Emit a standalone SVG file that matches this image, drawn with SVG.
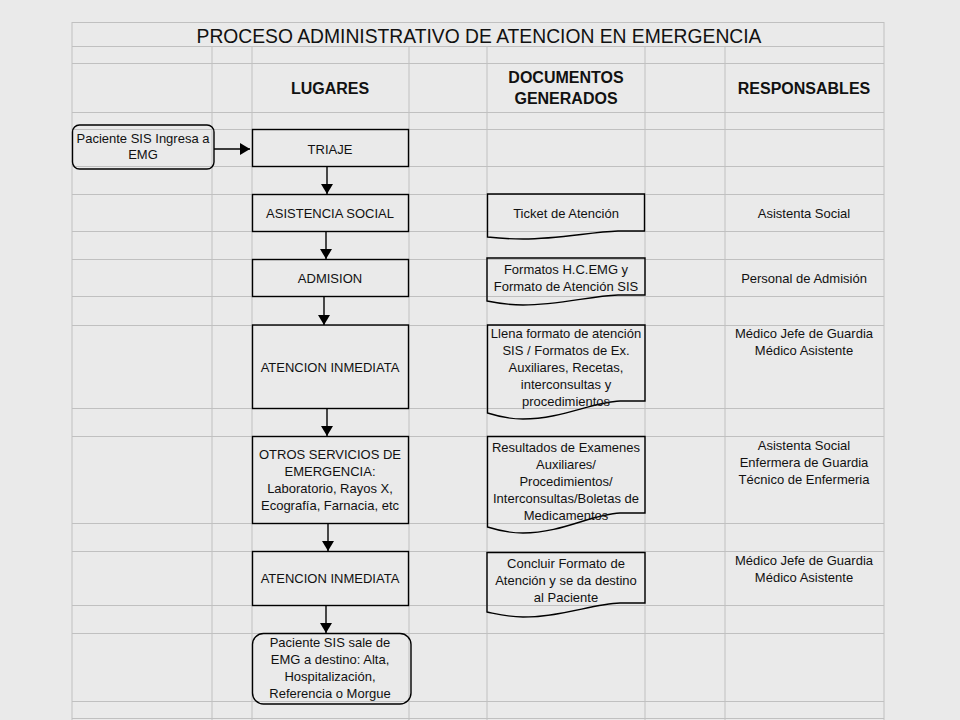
<svg xmlns="http://www.w3.org/2000/svg" width="960" height="720" viewBox="0 0 960 720">
<style>
.grid{stroke:#c0c0c0;stroke-width:1;fill:none}
.box{fill:none;stroke:#000;stroke-width:1.4}
.t{font-family:"Liberation Sans",Arial,sans-serif;font-size:13px;fill:#111;text-anchor:middle}
.h{font-family:"Liberation Sans",Arial,sans-serif;font-size:16px;font-weight:bold;fill:#111;text-anchor:middle}
.title{font-family:"Liberation Sans",Arial,sans-serif;font-size:19.3px;fill:#111;text-anchor:middle}
.conn{stroke:#000;stroke-width:1.4;fill:none}
</style>
<defs>
<marker id="ah" markerUnits="userSpaceOnUse" markerWidth="12" markerHeight="12" refX="10" refY="6" orient="auto">
<path d="M0,0 L10,6 L0,12 z" fill="#000"/>
</marker>
</defs>
<rect x="0" y="0" width="960" height="720" fill="#eaeaea"/>
<g id="grid" class="grid">
<path d="M72,22 V720 M884,22 V720 M212,46 V720 M252,46 V720 M409,46 V720 M487,46 V720 M645,46 V720 M725,46 V720"/>
<path d="M72,22.5 H884 M72,46.5 H884 M72,63.5 H884 M72,112.5 H884 M72,129.5 H884 M72,166.5 H884 M72,194.5 H884 M72,231.5 H884 M72,259.5 H884 M72,296.5 H884 M72,325.5 H884 M72,408.5 H884 M72,436.5 H884 M72,523.5 H884 M72,551.5 H884 M72,605.5 H884 M72,633.5 H884 M72,701.5 H884 M72,718.5 H884"/>
</g>
<g id="headers">
<text class="title" x="479" y="42.5">PROCESO ADMINISTRATIVO DE ATENCION EN EMERGENCIA</text>
<text class="h" x="330" y="94">LUGARES</text>
<text class="h" x="566" y="83">DOCUMENTOS</text>
<text class="h" x="566" y="104">GENERADOS</text>
<text class="h" x="804" y="94">RESPONSABLES</text>
</g>
<g id="connectors">
<line class="conn" x1="214" y1="149" x2="250" y2="149" marker-end="url(#ah)"/>
<line class="conn" x1="327" y1="166" x2="327" y2="194" marker-end="url(#ah)"/>
<line class="conn" x1="326" y1="231" x2="326" y2="259" marker-end="url(#ah)"/>
<line class="conn" x1="324" y1="296" x2="324" y2="325" marker-end="url(#ah)"/>
<line class="conn" x1="327" y1="408" x2="327" y2="436" marker-end="url(#ah)"/>
<line class="conn" x1="328" y1="523" x2="328" y2="551" marker-end="url(#ah)"/>
<line class="conn" x1="326" y1="605" x2="326" y2="633" marker-end="url(#ah)"/>
</g>
<g id="start">
<rect class="box" x="72.5" y="125" width="141.5" height="44" rx="7"/>
<text class="t" x="143" y="143">Paciente SIS Ingresa a</text>
<text class="t" x="143" y="159">EMG</text>
</g>
<g id="triaje">
<rect class="box" x="252.5" y="129.5" width="156" height="37"/>
<text class="t" x="330" y="154">TRIAJE</text>
</g>
<g id="asistencia">
<rect class="box" x="252.5" y="194.5" width="156" height="37"/>
<text class="t" x="330" y="218">ASISTENCIA SOCIAL</text>
</g>
<g id="admision">
<rect class="box" x="252.5" y="259.5" width="156" height="37"/>
<text class="t" x="330" y="283">ADMISION</text>
</g>
<g id="atencion1">
<rect class="box" x="252.5" y="325" width="156" height="83.5"/>
<text class="t" x="330" y="372">ATENCION INMEDIATA</text>
</g>
<g id="otros">
<rect class="box" x="252.5" y="436.5" width="156" height="87"/>
<text class="t" x="330" y="459">OTROS SERVICIOS DE</text>
<text class="t" x="330" y="476">EMERGENCIA:</text>
<text class="t" x="330" y="493">Laboratorio, Rayos X,</text>
<text class="t" x="330" y="510">Ecografía, Farnacia, etc</text>
</g>
<g id="atencion2">
<rect class="box" x="252.5" y="551.5" width="156" height="54"/>
<text class="t" x="330" y="583">ATENCION INMEDIATA</text>
</g>
<g id="fin">
<rect class="box" x="252.5" y="633.5" width="158.5" height="70.5" rx="11"/>
<text class="t" x="330" y="647">Paciente SIS sale de</text>
<text class="t" x="330" y="664">EMG a destino: Alta,</text>
<text class="t" x="330" y="681">Hospitalización,</text>
<text class="t" x="330" y="698">Referencia o Morgue</text>
</g>
<g id="doc-ticket">
<path class="box" d="M487.5,194 H644.5 V231 L618,231 C590,232 560,239 523,239 C508,239 497,238 487.5,237 Z"/>
<text class="t" x="566" y="218">Ticket de Atención</text>
</g>
<g id="doc-formatos">
<path class="box" d="M487,258 H645 V295 L618,295 C590,296 560,305 523,305 C508,305 497,303 487,301 Z"/>
<text class="t" x="566" y="274">Formatos H.C.EMG y</text>
<text class="t" x="566" y="291">Formato de Atención SIS</text>
</g>
<g id="doc-llena">
<path class="box" d="M487.5,325 H645 V401 L620,401 C592,402 562,419 523,419 C508,419 497,416 487.5,413 Z"/>
<text class="t" x="566" y="338">Llena formato de atención</text>
<text class="t" x="566" y="355">SIS / Formatos de Ex.</text>
<text class="t" x="566" y="372">Auxiliares, Recetas,</text>
<text class="t" x="566" y="389">interconsultas y</text>
<text class="t" x="566" y="406">procedimientos</text>
</g>
<g id="doc-resultados">
<path class="box" d="M487.5,436.5 H645 V513 L620,513 C592,514 562,533 523,533 C508,533 497,530 487.5,527 Z"/>
<text class="t" x="566" y="452">Resultados de Examenes</text>
<text class="t" x="566" y="469">Auxiliares/</text>
<text class="t" x="566" y="486">Procedimientos/</text>
<text class="t" x="566" y="503">Interconsultas/Boletas de</text>
<text class="t" x="566" y="520">Medicamentos</text>
</g>
<g id="doc-concluir">
<path class="box" d="M487,552.5 H645 V603 L620,603 C592,604 562,617 523,617 C508,617 497,614 487,612 Z"/>
<text class="t" x="566" y="568">Concluir Formato de</text>
<text class="t" x="566" y="585">Atención y se da destino</text>
<text class="t" x="566" y="602">al Paciente</text>
</g>
<g id="responsables">
<text class="t" x="804" y="218">Asistenta Social</text>
<text class="t" x="804" y="283">Personal de Admisión</text>
<text class="t" x="804" y="338">Médico Jefe de Guardia</text>
<text class="t" x="804" y="355">Médico Asistente</text>
<text class="t" x="804" y="450">Asistenta Social</text>
<text class="t" x="804" y="467">Enfermera de Guardia</text>
<text class="t" x="804" y="484">Técnico de Enfermeria</text>
<text class="t" x="804" y="565">Médico Jefe de Guardia</text>
<text class="t" x="804" y="582">Médico Asistente</text>
</g>
</svg>
